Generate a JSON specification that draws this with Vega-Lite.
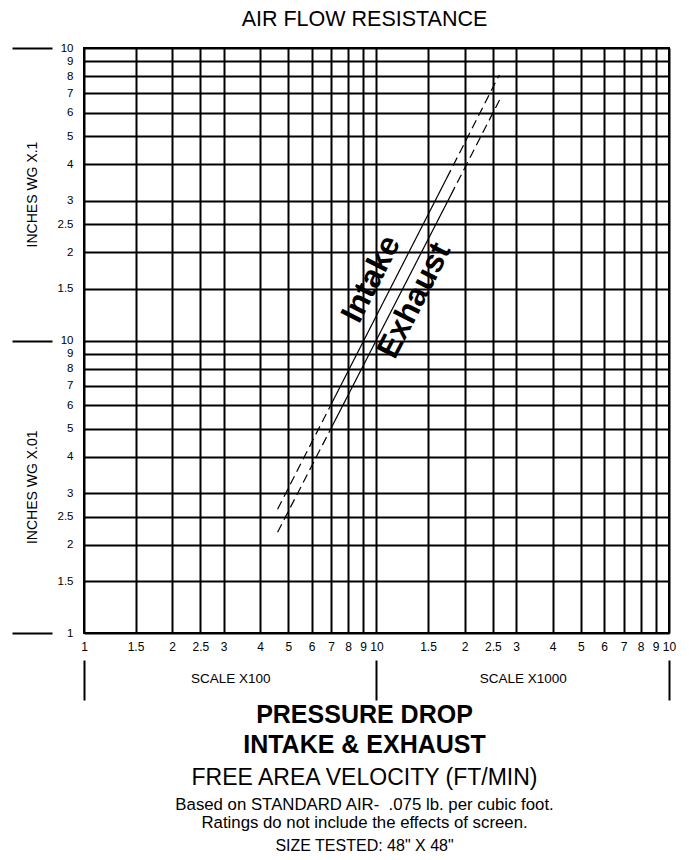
{
  "$schema": "https://vega.github.io/schema/vega-lite/v6.json",
  "width": 585,
  "height": 585,
  "autosize": {"type": "none"},
  "padding": {"left": 84, "top": 48, "right": 20, "bottom": 227},
  "background": "white",
  "title": {"text": "AIR FLOW RESISTANCE", "fontSize": 21.5, "fontWeight": "normal", "color": "black", "frame": "group", "anchor": "middle", "dx": -12, "offset": 12},
  "config": {
    "font": "Liberation Sans",
    "view": {"stroke": "black", "strokeWidth": 2},
    "axis": {"labelColor": "black", "titleColor": "black", "labelFlush": false, "labelOverlap": false, "labelBound": false, "labelLimit": 0, "titleLimit": 0}
  },
  "datasets": {
    "lines": [
      {"series": "Intake", "part": "low", "style": "dashed", "velocity": 459, "pressure": 0.0265},
      {"series": "Intake", "part": "low", "style": "dashed", "velocity": 698, "pressure": 0.0602},
      {"series": "Intake", "part": "mid", "style": "solid", "velocity": 698, "pressure": 0.0602},
      {"series": "Intake", "part": "mid", "style": "solid", "velocity": 1738, "pressure": 0.359},
      {"series": "Intake", "part": "high", "style": "dashed", "velocity": 1738, "pressure": 0.359},
      {"series": "Intake", "part": "high", "style": "dashed", "velocity": 2629, "pressure": 0.809},
      {"series": "Exhaust", "part": "low", "style": "dashed", "velocity": 459, "pressure": 0.0221},
      {"series": "Exhaust", "part": "low", "style": "dashed", "velocity": 700, "pressure": 0.0502},
      {"series": "Exhaust", "part": "mid", "style": "solid", "velocity": 700, "pressure": 0.0502},
      {"series": "Exhaust", "part": "mid", "style": "solid", "velocity": 1795, "pressure": 0.314},
      {"series": "Exhaust", "part": "high", "style": "dashed", "velocity": 1795, "pressure": 0.314},
      {"series": "Exhaust", "part": "high", "style": "dashed", "velocity": 2644, "pressure": 0.669}
    ],
    "labels": [
      {"series": "Intake", "velocity": 957.6, "pressure": 0.1623},
      {"series": "Exhaust", "velocity": 1343.6, "pressure": 0.137}
    ]
  },
  "layer": [
    {
      "data": {"name": "lines"},
      "transform": [{"filter": "datum.series === 'Intake'"}],
      "mark": {"type": "line", "color": "black", "strokeWidth": 1.2},
      "encoding": {
        "x": {
          "field": "velocity", "type": "quantitative",
          "scale": {"type": "log", "domain": [100, 10000], "nice": false},
          "axis": {
            "orient": "bottom",
            "values": [100, 150, 200, 250, 300, 400, 500, 600, 700, 800, 900, 1000, 1500, 2000, 2500, 3000, 4000, 5000, 6000, 7000, 8000, 9000, 10000],
            "grid": true, "gridColor": "black", "gridWidth": 2, "gridOpacity": 1,
            "ticks": false, "tickSize": 0, "domain": false,
            "labelFontSize": 12, "labelPadding": 8,
            "labelExpr": "datum.value > 1001 ? format(datum.value / 1000, '.2~g') : format(datum.value / 100, '.2~g')",
            "title": null
          }
        },
        "y": {
          "field": "pressure", "type": "quantitative",
          "scale": {"type": "log", "domain": [0.01, 1], "nice": false},
          "axis": {
            "orient": "left",
            "values": [0.01, 0.015, 0.02, 0.025, 0.03, 0.04, 0.05, 0.06, 0.07, 0.08, 0.09, 0.1, 0.15, 0.2, 0.25, 0.3, 0.4, 0.5, 0.6, 0.7, 0.8, 0.9, 1],
            "grid": true, "gridColor": "black", "gridWidth": 2, "gridOpacity": 1,
            "ticks": false, "tickSize": 0, "domain": false,
            "labelFontSize": 11.5, "labelPadding": 11,
            "labelExpr": "datum.value > 0.1001 ? format(datum.value * 10, '.2~g') : format(datum.value * 100, '.2~g')",
            "title": "INCHES WG X.1", "titleFontSize": 14, "titleFontWeight": "normal",
            "titleX": -52, "titleY": 146, "titleBaseline": "middle", "titleAngle": 270
          }
        },
        "detail": {"field": "part"},
        "strokeDash": {"field": "style", "type": "nominal", "scale": {"domain": ["solid", "dashed"], "range": [[1, 0], [9, 5]]}, "legend": null}
      }
    },
    {
      "data": {"name": "lines"},
      "transform": [{"filter": "datum.series === 'Exhaust'"}],
      "mark": {"type": "line", "color": "black", "strokeWidth": 1.2},
      "encoding": {
        "x": {
          "field": "velocity", "type": "quantitative",
          "scale": {"type": "log", "domain": [100, 10000], "nice": false},
          "axis": {
            "orient": "bottom", "values": [100, 1000, 10000], "offset": 27,
            "grid": false, "domain": false, "labels": false,
            "ticks": true, "tickSize": 40, "tickWidth": 2, "tickColor": "black",
            "title": ["PRESSURE DROP", "INTAKE & EXHAUST"], "titleFontSize": 25, "titleFontWeight": "bold",
            "titleLineHeight": 30, "titleX": 280, "titleY": 42, "titleBaseline": "top", "titleAlign": "center"
          }
        },
        "y": {
          "field": "pressure", "type": "quantitative",
          "scale": {"type": "log", "domain": [0.01, 1], "nice": false},
          "axis": {
            "orient": "left", "values": [0.01, 0.1, 1], "offset": 32,
            "grid": false, "domain": false, "labels": false,
            "ticks": true, "tickSize": 40, "tickWidth": 2, "tickColor": "black",
            "title": null
          }
        },
        "detail": {"field": "part"},
        "strokeDash": {"field": "style", "type": "nominal", "scale": {"domain": ["solid", "dashed"], "range": [[1, 0], [9, 5]]}, "legend": null}
      }
    },
    {
      "data": {"name": "labels"},
      "transform": [{"filter": "datum.series === 'Intake'"}],
      "mark": {"type": "text", "fontSize": 32, "fontWeight": "bold", "angle": 297, "align": "center", "baseline": "middle", "color": "black"},
      "encoding": {
        "x": {
          "field": "velocity", "type": "quantitative",
          "scale": {"type": "log", "domain": [100, 10000], "nice": false},
          "axis": {
            "orient": "bottom", "values": [316.23, 3162.28], "offset": 27,
            "grid": false, "domain": false, "ticks": false, "tickSize": 0,
            "labelFontSize": 13.5, "labelPadding": 11,
            "labelExpr": "datum.value < 1000 ? 'SCALE X100' : 'SCALE X1000'",
            "title": "FREE AREA VELOCITY (FT/MIN)", "titleFontSize": 23, "titleFontWeight": "normal",
            "titleX": 280, "titleY": 106, "titleBaseline": "top", "titleAlign": "center"
          }
        },
        "y": {
          "field": "pressure", "type": "quantitative",
          "scale": {"type": "log", "domain": [0.01, 1], "nice": false},
          "axis": {
            "orient": "left", "grid": false, "domain": false, "labels": false, "ticks": false,
            "title": "INCHES WG X.01", "titleFontSize": 14, "titleFontWeight": "normal",
            "titleX": -52, "titleY": 438.75, "titleBaseline": "middle", "titleAngle": 270
          }
        },
        "text": {"field": "series"}
      }
    },
    {
      "data": {"name": "labels"},
      "transform": [{"filter": "datum.series === 'Exhaust'"}],
      "mark": {"type": "text", "fontSize": 32, "fontWeight": "bold", "angle": 297, "align": "center", "baseline": "middle", "color": "black"},
      "encoding": {
        "x": {
          "field": "velocity", "type": "quantitative",
          "scale": {"type": "log", "domain": [100, 10000], "nice": false},
          "axis": {
            "orient": "bottom", "values": [906.6], "offset": 27,
            "grid": false, "domain": false, "ticks": false, "tickSize": 0,
            "labelFontSize": 16.8, "labelPadding": 136, "labelLineHeight": 18,
            "labelExpr": "['Based on STANDARD AIR-\u00a0 .075 lb. per cubic foot.', 'Ratings do not include the effects of screen.']",
            "title": "SIZE TESTED: 48\" X 48\"", "titleFontSize": 16, "titleFontWeight": "normal",
            "titleX": 280, "titleY": 177, "titleBaseline": "top", "titleAlign": "center"
          }
        },
        "y": {
          "field": "pressure", "type": "quantitative",
          "scale": {"type": "log", "domain": [0.01, 1], "nice": false},
          "axis": null
        },
        "text": {"field": "series"}
      }
    }
  ],
  "resolve": {"axis": {"x": "independent", "y": "independent"}}
}
